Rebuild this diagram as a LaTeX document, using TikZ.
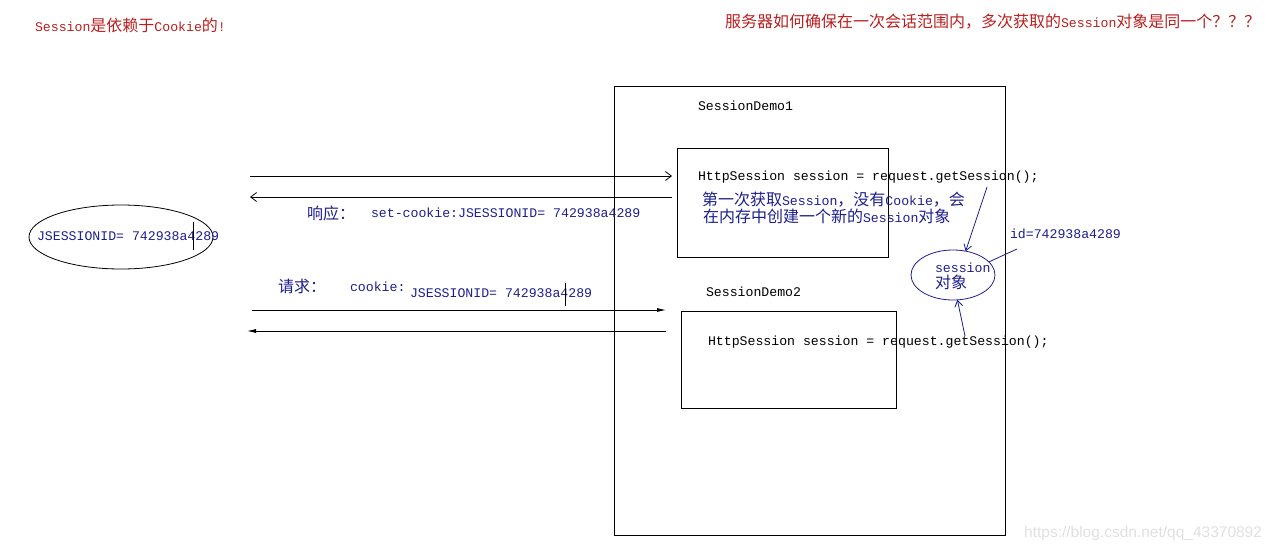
\documentclass[tikz,border=0pt]{standalone}
\usepackage{fontspec}
\setmainfont{Liberation Mono}
\newfontfamily\cjk{Noto Sans CJK SC}
\newfontfamily\wmfont{Liberation Sans}
\usetikzlibrary{arrows.meta,shapes.geometric}
\definecolor{tred}{RGB}{185,30,30}
\definecolor{navy}{RGB}{30,30,140}
\newcommand\zhs[1]{{\cjk\fontsize{16}{18}\selectfont #1}}
\begin{document}
\begin{tikzpicture}[x=1pt,y=-1pt,
  every node/.style={inner sep=0pt,outer sep=0pt,font=\fontsize{13.2}{16}\selectfont},
  txt/.style={anchor=west},
  box/.style={draw,line width=0.8pt,anchor=north west},
  conn/.style={line width=0.8pt},
  openhead/.style={conn,-{Straight Barb[length=6pt,width=9pt]}},
  fillhead/.style={conn,-{Latex[length=9pt,width=4pt]}},
  navyarrow/.style={conn,navy,-{Straight Barb[length=6pt,width=8pt]}}]
\useasboundingbox (0,0) rectangle (1272,552);
% titles
\node[txt,text=tred] (t1) at (35,25) {Session\zhs{是依赖于}Cookie\zhs{的}!};
\node[txt,text=tred] (t2) at (725,22) {\zhs{服务器如何确保在一次会话范围内，多次获取的}Session\zhs{对象是同一个？？？}};
% boxes
\node[box,minimum width=391pt,minimum height=449pt] (outer) at (614,86) {};
\node[box,minimum width=211pt,minimum height=109pt] (box1) at (677,148) {};
\node[box,minimum width=215pt,minimum height=97pt] (box2) at (681,311) {};
\node[draw,ellipse,line width=0.8pt,minimum width=184pt,minimum height=64pt] (cookie) at (121,237) {};
\node[draw,navy,ellipse,line width=0.8pt,minimum width=84pt,minimum height=50pt] (sess) at (953,275) {};
% texts
\node[txt] (demo1) at (698,106) {SessionDemo1};
\node[txt] (code1) at (698,177) {HttpSession session = request.getSession();};
\node[txt,text=navy] (b1) at (702,200) {\zhs{第一次获取}Session\zhs{，没有}Cookie\zhs{，会}};
\node[txt,text=navy] (b2) at (703,216) {\zhs{在内存中创建一个新的}Session\zhs{对象}};
\node[txt,text=navy] (resp) at (307,213) {\zhs{响应：}};
\node[txt,text=navy] (setc) at (371,213) {set-cookie:JSESSIONID= 742938a4289};
\node[txt,text=navy] (cid) at (37,236) {JSESSIONID= 742938a4289};
\node[txt,text=navy] (req) at (278,286) {\zhs{请求：}};
\node[txt,text=navy] (ck) at (350,287) {cookie:};
\node[txt,text=navy] (rid) at (410,293) {JSESSIONID= 742938a4289};
\node[txt] (demo2) at (706,292) {SessionDemo2};
\node[txt] (code2) at (708,342) {HttpSession session = request.getSession();};
\node[txt,text=navy] (s1) at (935,268) {session};
\node[txt,text=navy] (s2) at (935,282) {\zhs{对象}};
\node[txt,text=navy] (idt) at (1010,234) {id=742938a4289};
\node[anchor=east,text=black!12,font=\wmfont\fontsize{15.5}{18}\selectfont] (wm) at (1262,533) {https://blog.csdn.net/qq\_43370892};
% cursor marks
\coordinate (k1a) at (193,222); \coordinate (k1b) at (193,250);
\coordinate (k2a) at (565,283); \coordinate (k2b) at (565,306);
\draw[line width=0.6pt] (k1a) -- (k1b);
\draw[line width=0.6pt] (k2a) -- (k2b);
% connectors
\coordinate (a1s) at (250,176); \coordinate (a1e) at (672,176);
\coordinate (a2s) at (672,197); \coordinate (a2e) at (250,197);
\coordinate (a3s) at (252,310); \coordinate (a3e) at (666,310);
\coordinate (a4s) at (666,331); \coordinate (a4e) at (247,331);
\draw[openhead] (a1s) -- (a1e);
\draw[openhead] (a2s) -- (a2e);
\draw[fillhead] (a3s) -- (a3e);
\draw[fillhead] (a4s) -- (a4e);
\coordinate (c1) at (987,187);
\coordinate (c2) at (1017,249);
\coordinate (c3) at (965,336);
\draw[navyarrow] (c1) -- (sess.62);
\draw[conn,navy] (c2) -- (sess.20);
\draw[navyarrow] (c3) -- (sess.280);
\end{tikzpicture}
\end{document}
